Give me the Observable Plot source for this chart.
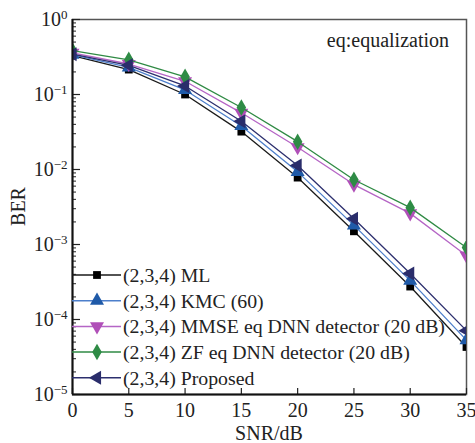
<!DOCTYPE html>
<html>
<head>
<meta charset="utf-8">
<script src="https://cdn.jsdelivr.net/npm/d3@7"></script>
<script src="https://cdn.jsdelivr.net/npm/@observablehq/plot@0.6"></script>
<style>
  html, body { margin: 0; padding: 0; background: #fff; }
  #chart { width: 475px; height: 443px; }
</style>
</head>
<body>
<div id="chart"></div>
<script>
const snr = [0, 5, 10, 15, 20, 25, 30, 35];
const berML = [0.33, 0.215, 0.10, 0.032, 0.0078, 0.0015, 0.000275, 4.3e-5];
const berKMC = [0.34, 0.23, 0.115, 0.038, 0.0093, 0.0018, 0.00033, 5.3e-5];
const berMMSE = [0.36, 0.255, 0.15, 0.057, 0.0198, 0.0063, 0.0026, 0.00071];
const berZF = [0.385, 0.29, 0.172, 0.067, 0.0235, 0.0073, 0.0031, 0.00091];
const berProposed = [0.345, 0.245, 0.13, 0.044, 0.0113, 0.0022, 0.00041, 7.1e-5];

const seriesNames = [
  "(2,3,4) ML",
  "(2,3,4) KMC (60)",
  "(2,3,4) MMSE eq DNN detector (20 dB)",
  "(2,3,4) ZF eq DNN detector (20 dB)",
  "(2,3,4) Proposed"
];
const seriesValues = [berML, berKMC, berMMSE, berZF, berProposed];
const xTicks = [0, 5, 10, 15, 20, 25, 30, 35];
const yMajorTicks = [1e-5, 1e-4, 1e-3, 1e-2, 1e-1, 1];
const yMinorTicks = [];
for (let e = -5; e < 0; e++) for (let m = 2; m <= 9; m++) yMinorTicks.push(m * Math.pow(10, e));

const styles = [
  {line: "#1a1a1a", fill: "#000000", symbol: "square", rotate: 0, r: 4.4},
  {line: "#4d7fcb", fill: "#1f5aa8", symbol: "triangle", rotate: 0, r: 5.2},
  {line: "#b565c5", fill: "#b04fb8", symbol: "triangle", rotate: 180, r: 5.2},
  {line: "#2f8a44", fill: "#2e8b45", symbol: "diamond", rotate: 0, r: 5.0},
  {line: "#2c2f6e", fill: "#2a2d6b", symbol: "triangle", rotate: 270, r: 5.2}
];

const W = 475, H = 443, mL = 72, mR = 9, mT = 19, mB = 49;
const innerW = W - mL - mR, innerH = H - mT - mB;

const rows = [];
seriesNames.forEach((name, i) => {
  snr.forEach((s, j) => rows.push({series: name, idx: i, snr: s, ber: seriesValues[i][j]}));
});

const marks = [
  Plot.frame({stroke: "#555", strokeWidth: 1.5}),
  Plot.tickY(yMinorTicks, {y: d => d, stroke: "#222", strokeWidth: 1, insetRight: innerW - 4}),
  Plot.tickY(yMajorTicks, {y: d => d, stroke: "#222", strokeWidth: 1.2, insetRight: innerW - 8}),
  Plot.tickX(xTicks, {x: d => d, stroke: "#222", strokeWidth: 1.2, insetTop: innerH - 6}),
  Plot.axisX(xTicks, {tickSize: 0, tickPadding: 8, label: null, fontSize: 20, tickFormat: d => String(d)}),
  Plot.axisY(yMajorTicks, {tickSize: 0, tickPadding: 5, label: null, fontSize: 20,
    tickFormat: d => String(Math.round(Math.log10(d)))})
];
styles.forEach((st, i) => {
  const data = rows.filter(r => r.idx === i);
  marks.push(Plot.line(data, {x: "snr", y: "ber", stroke: st.line, strokeWidth: 1.3, clip: "frame"}));
  marks.push(Plot.dot(data, {x: "snr", y: "ber", symbol: () => st.symbol, fill: st.fill, stroke: "none",
    r: st.r, rotate: st.rotate, clip: "frame"}));
});
marks.push(Plot.ruleX([0], {stroke: "#111", strokeWidth: 2}));
marks.push(Plot.ruleY([1e-5], {stroke: "#111", strokeWidth: 2}));

const chart = Plot.plot({
  width: W, height: H,
  marginLeft: mL, marginRight: mR, marginTop: mT, marginBottom: mB,
  style: {fontFamily: "'Liberation Serif', 'Times New Roman', serif", fontSize: "20px", background: "#fff", color: "#222"},
  x: {domain: [0, 35]},
  y: {type: "log", domain: [1e-5, 1]},
  marks
});
document.getElementById("chart").appendChild(chart);

const svg = d3.select(chart);
svg.selectAll('[aria-label="y-axis tick label"] text').each(function() {
  const t = d3.select(this);
  const e = t.text();
  t.text("10");
  t.append("tspan").attr("dy", "-0.55em").attr("font-size", "13px").text(e.replace("-", "\u2212"));
});
svg.selectAll('[aria-label="y-axis tick label"], [aria-label="x-axis tick label"]').attr("fill", "#222");

const ff = "'Liberation Serif', 'Times New Roman', serif";
svg.append("text").attr("x", (mL + W - mR) / 2).attr("y", 440).attr("text-anchor", "middle")
  .attr("font-family", ff).attr("font-size", 20).attr("fill", "#222").text("SNR/dB");
svg.append("text").attr("transform", `translate(25,${mT + innerH / 2}) rotate(-90)`).attr("text-anchor", "middle")
  .attr("font-family", ff).attr("font-size", 20).attr("fill", "#222").text("BER");
svg.append("text").attr("x", 449).attr("y", 47).attr("text-anchor", "end")
  .attr("font-family", ff).attr("font-size", 20).attr("fill", "#222").text("eq:equalization");

const symMap = {square: d3.symbolSquare, triangle: d3.symbolTriangle, diamond: d3.symbolDiamond};
const lg = svg.append("g").attr("text-anchor", "start");
seriesNames.forEach((name, i) => {
  const st = styles[i];
  const y = 275 + i * 25.7;
  lg.append("line").attr("x1", mL).attr("x2", 121).attr("y1", y).attr("y2", y)
    .attr("stroke", st.line).attr("stroke-width", 1.5);
  lg.append("path").attr("d", d3.symbol(symMap[st.symbol], Math.PI * st.r * st.r)())
    .attr("transform", `translate(97,${y}) rotate(${st.rotate})`).attr("fill", st.fill);
  lg.append("text").attr("x", 123).attr("y", y + 7).attr("text-anchor", "start")
    .attr("font-family", ff).attr("font-size", 19.8)
    .attr("fill", "#222").text(name);
});
</script>
</body>
</html>
